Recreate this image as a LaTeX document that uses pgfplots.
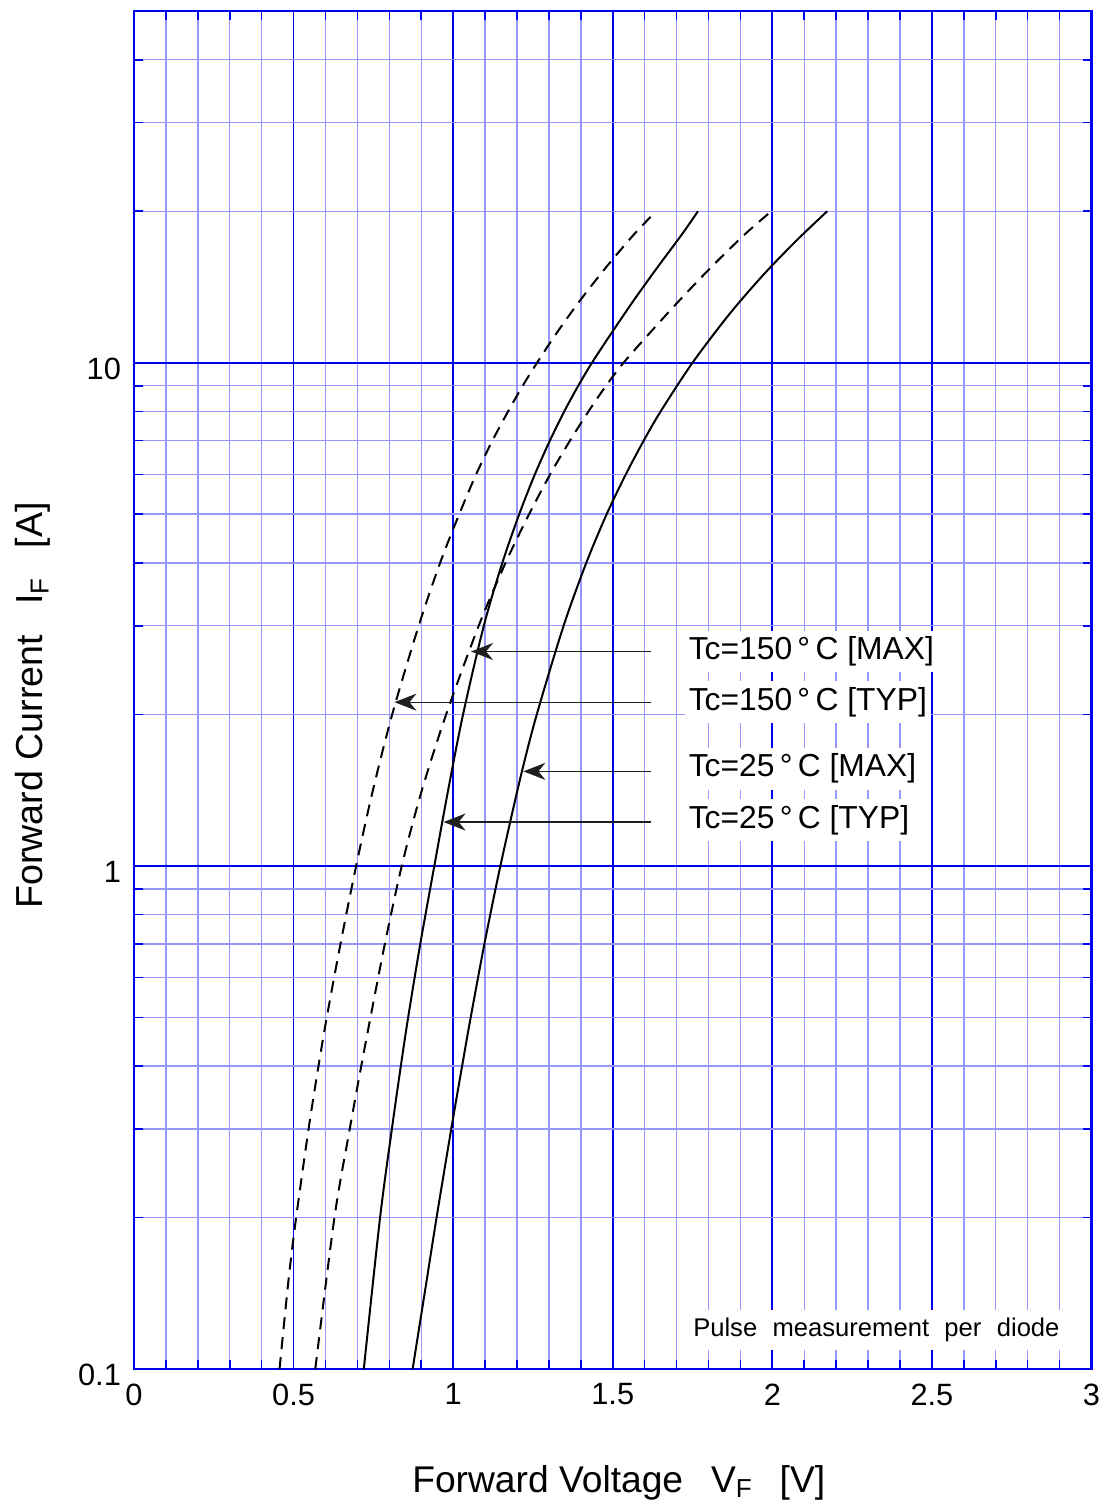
\documentclass[border=0pt]{standalone}
\usepackage{fontspec}
\setmainfont{Liberation Sans}
\usepackage{pgfplots}
\pgfplotsset{compat=1.18}
\usetikzlibrary{arrows.meta}
\definecolor{gmaj}{RGB}{0,0,240}
\definecolor{gmin}{RGB}{150,150,255}
\definecolor{arr}{RGB}{30,30,30}

\pgfplotstableread{
V I
0.456 0.1
0.484 0.15
0.508 0.2
0.547 0.3
0.578 0.4
0.604 0.5
0.647 0.7
0.696 1
0.747 1.4
0.809 2
0.892 3
0.959 4
1.019 5
1.072 6
1.123 7
1.172 8
1.218 9
1.263 10
1.322 11.4
1.397 13.28
1.479 15.47
1.567 18
1.636 20
}\curveA

\pgfplotstableread{
V I
0.568 0.1
0.628 0.2
0.676 0.3
0.712 0.4
0.741 0.5
0.786 0.7
0.839 1
0.900 1.4
0.978 2
1.080 3
1.164 4
1.238 5
1.304 6
1.366 7
1.424 8
1.479 9
1.534 10
1.613 11.4
1.708 13.28
1.808 15.47
1.914 18
1.997 20
}\curveB

\pgfplotstableread{
V I
0.720 0.1
0.771 0.2
0.808 0.3
0.836 0.4
0.859 0.5
0.897 0.7
0.941 1
0.983 1.4
1.031 2
1.096 3
1.154 4
1.207 5
1.256 6
1.303 7
1.348 8
1.392 9
1.435 10
1.494 11.4
1.565 13.28
1.640 15.47
1.717 18
1.767 20
}\curveC

\pgfplotstableread{
V I
0.873 0.1
0.917 0.15
0.948 0.2
0.994 0.3
1.028 0.4
1.055 0.5
1.098 0.7
1.148 1
1.211 1.5
1.262 2
1.346 3
1.417 4
1.481 5
1.541 6
1.597 7
1.650 8
1.750 10
1.866 12.5
1.974 15
2.076 17.5
2.172 20
}\curveD

\begin{document}
\begin{tikzpicture}
\begin{axis}[
  scale only axis,
  width=478.75pt, height=679pt,
  xmin=0, xmax=3, ymin=0.1, ymax=50,
  ymode=log,
  clip=false,
  xtick={0,0.5,1,1.5,2,2.5,3},
  xticklabels={0,0.5,1,1.5,2,2.5,3},
  minor xtick={0.1,0.2,0.3,0.4,0.6,0.7,0.8,0.9,1.1,1.2,1.3,1.4,1.6,1.7,1.8,1.9,2.1,2.2,2.3,2.4,2.6,2.7,2.8,2.9},
  ytick={0.1,1,10},
  yticklabels={0.1,1,10},
  minor ytick={0.2,0.3,0.4,0.5,0.6,0.7,0.8,0.9,2,3,4,5,6,7,8,9,20,30,40},
  grid=both,
  grid style={draw=gmaj, line width=0.9pt},
  major grid style={draw=gmaj, line width=0.9pt},
  minor grid style={draw=gmin, line width=0.7pt},
  axis line style={draw=gmaj, line width=1.1pt},
  tick style={draw=gmaj, line width=0.8pt},
  major tick length=4.5pt, minor tick length=4.5pt,
  tick align=inside,
  /pgf/number format/assume math mode=true,
  tick label style={font=\fontsize{15.4}{18}\selectfont},
  xticklabel style={yshift=-3.8pt},
  yticklabel style={xshift=-3pt, yshift=-3pt},
]
\addplot[black, line width=1pt, smooth, tension=0.5, dash pattern=on 6pt off 4pt] table[x=V,y=I] {\curveA};
\addplot[black, line width=1pt, smooth, tension=0.5, dash pattern=on 6pt off 4pt] table[x=V,y=I] {\curveB};
\addplot[black, line width=1pt, smooth, tension=0.5] table[x=V,y=I] {\curveC};
\addplot[black, line width=1pt, smooth, tension=0.5] table[x=V,y=I] {\curveD};

\draw[arr, line width=0.6pt, -{Stealth[length=11pt, width=8.5pt, inset=3.5pt]}] (axis cs:1.621,2.667) -- (axis cs:1.056,2.667);
\draw[arr, line width=0.6pt, -{Stealth[length=11pt, width=8.5pt, inset=3.5pt]}] (axis cs:1.621,2.115) -- (axis cs:0.816,2.115);
\draw[arr, line width=0.6pt, -{Stealth[length=11pt, width=8.5pt, inset=3.5pt]}] (axis cs:1.621,1.541) -- (axis cs:1.220,1.541);
\draw[arr, line width=0.6pt, -{Stealth[length=11pt, width=8.5pt, inset=3.5pt]}] (axis cs:1.621,1.222) -- (axis cs:0.970,1.222);

\begin{scope}[every node/.style={fill=white, inner xsep=2pt, inner ysep=3pt, anchor=west, font=\fontsize{15.9}{18}\selectfont}]
\node at ([xshift=-2pt]axis cs:1.737,2.667) {Tc=150\,°\,C [MAX]};
\node at ([xshift=-2pt]axis cs:1.737,2.115) {Tc=150\,°\,C [TYP]};
\node at ([xshift=-2pt]axis cs:1.737,1.56) {Tc=25\,°\,C [MAX]};
\node at ([xshift=-2pt]axis cs:1.737,1.233) {Tc=25\,°\,C [TYP]};
\end{scope}

\node[fill=white, inner xsep=3pt, inner ysep=4pt, font=\fontsize{12.8}{15}\selectfont] at (axis cs:2.326,0.1195) {Pulse\hspace{0.6em}measurement\hspace{0.6em}per\hspace{0.6em}diode};

\node[anchor=base, font=\fontsize{18.6}{22}\selectfont] at ([xshift=3pt, yshift=-61.5pt]rel axis cs:0.5,0) {Forward Voltage\hspace{0.75em}V\raisebox{-0.15em}{\fontsize{13}{13}\selectfont F}\hspace{0.75em}[V]};
\node[anchor=base, rotate=90, font=\fontsize{18.8}{22}\selectfont] at ([xshift=-45.5pt, yshift=-7.75pt]rel axis cs:0,0.5) {Forward Current\hspace{0.8em}I\raisebox{-0.15em}{\fontsize{13}{13}\selectfont F}\hspace{0.8em}[A]};

\coordinate (sw) at (rel axis cs:0,0);
\coordinate (ne) at (rel axis cs:1,1);
\end{axis}
\pgfresetboundingbox
\path ([shift={(-67pt,-67.5pt)}]sw) rectangle ([shift={(6.25pt,5.5pt)}]ne);
\end{tikzpicture}
\end{document}
